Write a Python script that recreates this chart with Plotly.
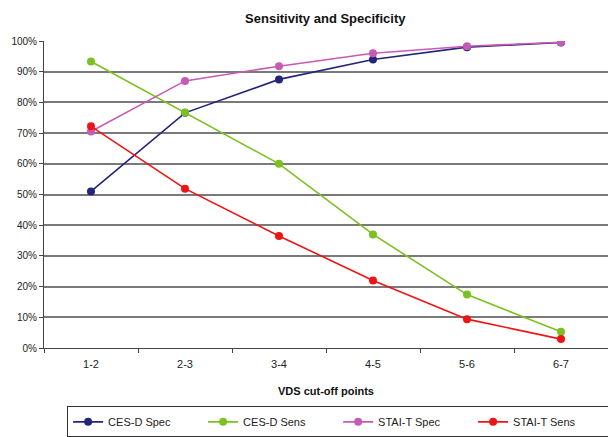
import plotly.graph_objects as go

categories = ["1-2", "2-3", "3-4", "4-5", "5-6", "6-7"]
cesd_spec = [0.51, 0.766, 0.875, 0.94, 0.98, 0.995]
cesd_sens = [0.933, 0.767, 0.60, 0.37, 0.174, 0.053]
stai_spec = [0.705, 0.87, 0.918, 0.96, 0.983, 0.996]
stai_sens = [0.722, 0.519, 0.365, 0.22, 0.094, 0.029]

series = [
    ("CES-D Spec", cesd_spec, "#24247A"),
    ("CES-D Sens", cesd_sens, "#7CC121"),
    ("STAI-T Spec", stai_spec, "#C95AB4"),
    ("STAI-T Sens", stai_sens, "#EE1414"),
]

fig = go.Figure()
for name, vals, col in series:
    fig.add_trace(go.Scatter(
        x=categories, y=vals, name=name, mode="lines+markers",
        line=dict(color=col, width=1.6),
        marker=dict(color=col, size=8),
    ))

font = "Liberation Sans, Arial, sans-serif"
fig.update_layout(
    width=608, height=437,
    margin=dict(l=44, r=0, t=41, b=89, autoexpand=False),
    plot_bgcolor="white", paper_bgcolor="white",
    font=dict(family=font, size=11, color="#222"),
    title=dict(text="<b>Sensitivity and Specificity</b>", x=0.535, xanchor="center",
               y=0.958, yanchor="middle", font=dict(size=13, color="#111")),
    showlegend=True,
    legend=dict(orientation="h", x=0.041, xanchor="left", y=-0.19, yanchor="top",
                bordercolor="#333", borderwidth=1, entrywidth=90,
                font=dict(size=11, color="#222"), traceorder="normal"),
    xaxis=dict(type="category", range=[-0.5, 5.5], tickson="boundaries",
               ticks="outside", ticklen=4, tickcolor="#444", automargin=False,
               showline=True, linecolor="#444", linewidth=1, showgrid=False,
               ticklabelstandoff=6,
               title=dict(text="<b>VDS cut-off points</b>", font=dict(size=11, color="#111"), standoff=18),
               tickfont=dict(size=11)),
    yaxis=dict(range=[0, 1], dtick=0.1, tickformat=".0%", automargin=False,
               ticks="outside", ticklen=4, tickcolor="#444",
               showline=True, linecolor="#444", linewidth=1,
               showgrid=True, gridcolor="#7a7a7a", gridwidth=1.5,
               zeroline=False, tickfont=dict(size=10)),
)

fig.write_html("out.html", config={"displayModeBar": False},
               post_script="document.body.style.margin='0';")
